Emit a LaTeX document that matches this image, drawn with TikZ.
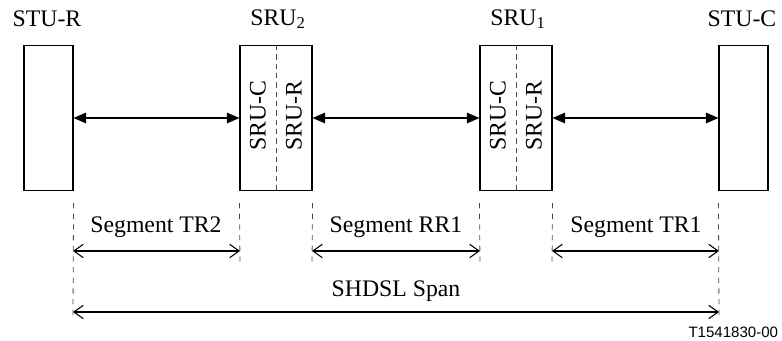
\documentclass[tikz,border=0pt]{standalone}
\usepackage{fontspec}
\setmainfont{Liberation Serif}
\newfontfamily\figfont{Liberation Sans}
\usetikzlibrary{arrows.meta}

\begin{document}
\begin{tikzpicture}[
	x=0.75pt, y=-0.75pt,
	line width=0.8pt,
	font=\fontsize{17.8}{20}\selectfont,
	term/.style={
		draw,
		minimum width=36.75pt,
		minimum height=108.75pt,
		inner sep=0pt
	},
	rep/.style={
		draw,
		minimum width=54pt,
		minimum height=108.75pt,
		inner sep=0pt
	},
	lbl/.style={inner sep=1pt},
	half/.style={rotate=90, inner sep=0pt},
	split/.style={gray!60!black, dash pattern=on 4pt off 3pt, line width=0.6pt},
	guide/.style={gray!60!black, dash pattern=on 4pt off 4pt, line width=0.6pt},
	link/.style={{Triangle[length=9.5pt,width=8pt]}-{Triangle[length=9.5pt,width=8pt]}},
	seg/.style={{Straight Barb[length=7pt,width=10pt]}-{Straight Barb[length=7pt,width=10pt]}}
	]
	\useasboundingbox (0,0) rectangle (782,341);

	\node[term] (stur) at (48.5,118)  {};
	\node[rep]  (sru2) at (276,118)   {};
	\node[rep]  (sru1) at (516,118)   {};
	\node[term] (stuc) at (743.5,118) {};

	\node[lbl] (sturlbl) at (47,19)  {STU-R};
	\node[lbl] (sru2lbl) at (278,19) {SRU\textsubscript{2}};
	\node[lbl] (sru1lbl) at (518,19) {SRU\textsubscript{1}};
	\node[lbl] (stuclbl) at (742,19) {STU-C};

	% inner split of the repeaters
	\draw[split] (sru2.north) -- (sru2.south);
	\draw[split] (sru1.north) -- (sru1.south);
	\node[half] (sru2c) at (258,116) {SRU-C};
	\node[half] (sru2r) at (294,116) {SRU-R};
	\node[half] (sru1c) at (498,116) {SRU-C};
	\node[half] (sru1r) at (534,116) {SRU-R};

	\draw[link] (stur.east) -- (sru2.west);
	\draw[link] (sru2.east) -- (sru1.west);
	\draw[link] (sru1.east) -- (stuc.west);

	% guide lines
	\coordinate (g1) at (73,317);
	\coordinate (g2) at (240,265);
	\coordinate (g3) at (312,265);
	\coordinate (g4) at (480,265);
	\coordinate (g5) at (552,265);
	\coordinate (g6) at (719,317);
	\draw[guide] (stur.south east) ++(0,12) -- (g1);
	\draw[guide] (sru2.south west) ++(0,12) -- (g2);
	\draw[guide] (sru2.south east) ++(0,12) -- (g3);
	\draw[guide] (sru1.south west) ++(0,12) -- (g4);
	\draw[guide] (sru1.south east) ++(0,12) -- (g5);
	\draw[guide] (stuc.south west) ++(0,12) -- (g6);

	\coordinate (s1) at (73,251);
	\coordinate (s2) at (240,251);
	\coordinate (s3) at (312,251);
	\coordinate (s4) at (480,251);
	\coordinate (s5) at (552,251);
	\coordinate (s6) at (719,251);
	\coordinate (l1) at (73,312);
	\coordinate (l2) at (719,312);

	\draw[seg] (s1) -- (s2);
	\draw[seg] (s3) -- (s4);
	\draw[seg] (s5) -- (s6);
	\draw[seg] (l1) -- (l2);

	\node[lbl] (tr2) at (156,227) {Segment TR2};
	\node[lbl] (rr1) at (396,227) {Segment RR1};
	\node[lbl] (tr1) at (636,227) {Segment TR1};
	\node[lbl] (span) at (396,291) {SHDSL Span};

	\node[lbl, font=\figfont\fontsize{11.3}{13}\selectfont, anchor=east] (fig) at (780,332) {T1541830-00};
\end{tikzpicture}
\end{document}
